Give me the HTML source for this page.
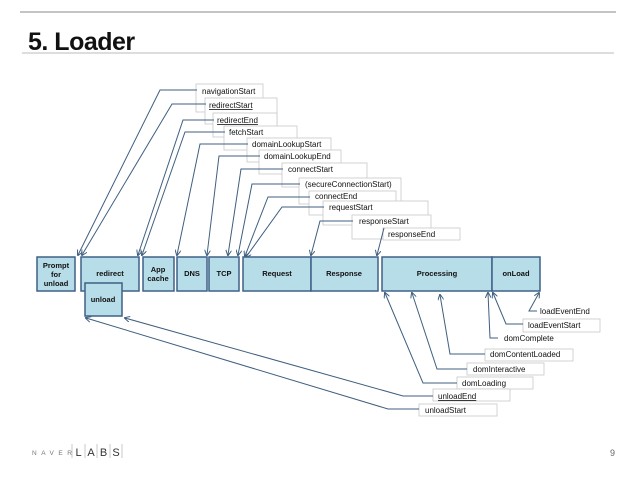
<!DOCTYPE html>
<html><head><meta charset="utf-8"><style>
html,body{margin:0;padding:0;background:#fff;}
svg{display:block;font-family:"Liberation Sans",sans-serif;}
</style></head><body>
<svg width="638" height="479" viewBox="0 0 638 479" xmlns="http://www.w3.org/2000/svg">
<defs>
<linearGradient id="g" x1="0" x2="1"><stop offset="0" stop-color="#777"/><stop offset="0.5" stop-color="#999"/><stop offset="1" stop-color="#666"/></linearGradient>
<marker id="a" markerWidth="6" markerHeight="6" refX="5" refY="3" orient="auto" markerUnits="userSpaceOnUse"><path d="M0,0 L6,3 L0,6" fill="none" stroke="#3f5f7f" stroke-width="1"/></marker>
</defs>
<line x1="20" y1="12" x2="616" y2="12" stroke="#888" stroke-width="1"/>
<text x="28" y="50" font-size="25" font-weight="bold" fill="#111" letter-spacing="-0.5">5. Loader</text>
<line x1="22" y1="53" x2="614" y2="53" stroke="#bbb" stroke-width="1"/>
<line x1="20" y1="61" x2="616" y2="61" stroke="url(#g)" stroke-width="1.2"/>

<g font-size="8" fill="#111" stroke-width="0.8">
<rect x="196" y="84" width="67" height="28" fill="#fff" stroke="#c8c8c8"/><text x="202" y="94">navigationStart</text>
<rect x="205" y="98" width="72" height="26" fill="#fff" stroke="#c8c8c8"/><text x="209" y="108" text-decoration="underline">redirectStart</text>
<rect x="213" y="113" width="64" height="24" fill="#fff" stroke="#c8c8c8"/><text x="217" y="123" text-decoration="underline">redirectEnd</text>
<rect x="224" y="126" width="73" height="24" fill="#fff" stroke="#c8c8c8"/><text x="229" y="135">fetchStart</text>
<rect x="247" y="138" width="84" height="24" fill="#fff" stroke="#c8c8c8"/><text x="252" y="147">domainLookupStart</text>
<rect x="259" y="150" width="82" height="24" fill="#fff" stroke="#c8c8c8"/><text x="264" y="159">domainLookupEnd</text>
<rect x="282" y="163" width="85" height="24" fill="#fff" stroke="#c8c8c8"/><text x="288" y="172">connectStart</text>
<rect x="299" y="178" width="102" height="26" fill="#fff" stroke="#c8c8c8"/><text x="305" y="187">(secureConnectionStart)</text>
<rect x="309" y="191" width="87" height="24" fill="#fff" stroke="#c8c8c8"/><text x="315" y="199">connectEnd</text>
<rect x="323" y="201" width="105" height="24" fill="#fff" stroke="#c8c8c8"/><text x="329" y="210">requestStart</text>
<rect x="352" y="215" width="79" height="24" fill="#fff" stroke="#c8c8c8"/><text x="359" y="224">responseStart</text>
<rect x="383" y="228" width="77" height="12" fill="#fff" stroke="#c8c8c8"/><text x="388" y="237">responseEnd</text>
</g>

<g fill="none" stroke="#3f5f7f" stroke-width="1" marker-end="url(#a)">
<polyline points="197,90 160,90 78,255"/>
<polyline points="206,104 172,104 82,255"/>
<polyline points="214,120 183,120 138,255"/>
<polyline points="225,132 185,132 142,255"/>
<polyline points="248,144 200,144 177,255"/>
<polyline points="260,156 219,156 207,255"/>
<polyline points="283,169 241,169 228,255"/>
<polyline points="300,184 252,184 238,255"/>
<polyline points="310,197 268,197 245,256"/>
<polyline points="324,207 282,207 246,257"/>
<polyline points="353,221 320,221 311,255"/>
<polyline points="384,228 377,255"/>
</g>

<g fill="#b7dde8" stroke="#3f6088" stroke-width="1.5">
<rect x="37" y="257" width="38" height="34"/>
<rect x="81" y="257" width="58" height="34"/>
<rect x="143" y="257" width="31" height="34"/>
<rect x="177" y="257" width="30" height="34"/>
<rect x="209" y="257" width="30" height="34"/>
<rect x="243" y="257" width="68" height="34"/>
<rect x="311" y="257" width="67" height="34"/>
<rect x="382" y="257" width="110" height="34"/>
<rect x="492" y="257" width="48" height="34"/>
<rect x="85" y="283" width="37" height="33"/>
</g>
<g font-size="7.5" fill="#111" text-anchor="middle" font-weight="600">
<text x="56" y="268">Prompt</text><text x="56" y="277">for</text><text x="56" y="286">unload</text>
<text x="110" y="276">redirect</text>
<text x="158" y="272">App</text><text x="158" y="281">cache</text>
<text x="192" y="276">DNS</text>
<text x="224" y="276">TCP</text>
<text x="277" y="276">Request</text>
<text x="344" y="276">Response</text>
<text x="437" y="276">Processing</text>
<text x="516" y="276">onLoad</text>
<text x="103" y="302">unload</text>
</g>

<g font-size="8" fill="#111" stroke-width="0.8">
<text x="540" y="314">loadEventEnd</text>
<rect x="523" y="319" width="77" height="13" fill="#fff" stroke="#c8c8c8"/><text x="528" y="328">loadEventStart</text>
<text x="504" y="341">domComplete</text>
<rect x="485" y="349" width="88" height="12" fill="#fff" stroke="#c8c8c8"/><text x="490" y="357">domContentLoaded</text>
<rect x="467" y="363" width="77" height="12" fill="#fff" stroke="#c8c8c8"/><text x="473" y="372">domInteractive</text>
<rect x="457" y="377" width="76" height="12" fill="#fff" stroke="#c8c8c8"/><text x="462" y="386">domLoading</text>
<rect x="433" y="389" width="77" height="12" fill="#fff" stroke="#c8c8c8"/><text x="438" y="399" text-decoration="underline">unloadEnd</text>
<rect x="419" y="404" width="78" height="12" fill="#fff" stroke="#c8c8c8"/><text x="425" y="413">unloadStart</text>
</g>
<g fill="none" stroke="#3f5f7f" stroke-width="1" marker-end="url(#a)">
<polyline points="537,311 529,311 539,293"/>
<polyline points="523,324 506,324 493,293"/>
<polyline points="498,338 490,338 488,293"/>
<polyline points="485,354 450,354 440,295"/>
<polyline points="467,369 437,369 412,293"/>
<polyline points="457,383 423,383 385,293"/>
<polyline points="433,396 403,396 125,318"/>
<polyline points="419,409 388,409 86,318"/>
</g>

<g font-size="6.5" fill="#777" letter-spacing="4.5"><text x="32" y="455">NAVER</text></g>
<g stroke="#bbb" stroke-width="0.8">
<line x1="72" y1="444" x2="72" y2="458"/><line x1="85" y1="444" x2="85" y2="458"/><line x1="97" y1="444" x2="97" y2="458"/><line x1="110" y1="444" x2="110" y2="458"/><line x1="122" y1="444" x2="122" y2="458"/>
</g>
<g font-size="11" fill="#333" text-anchor="middle">
<text x="78.5" y="456">L</text><text x="91" y="456">A</text><text x="103.5" y="456">B</text><text x="116" y="456">S</text>
</g>
<text x="610" y="456" font-size="9" fill="#666">9</text>
</svg>
</body></html>
